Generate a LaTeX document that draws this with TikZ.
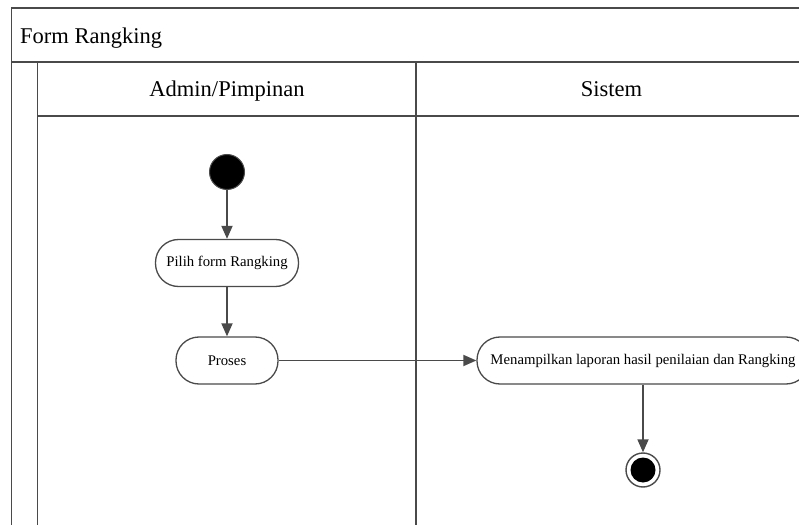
\documentclass[tikz,border=0pt]{standalone}
\usepackage{fontspec}
\setmainfont{Liberation Serif}
\usetikzlibrary{arrows.meta}
\definecolor{linegray}{HTML}{4A4A4A}
\begin{document}
\begin{tikzpicture}[x=1bp,y=-1bp,
  frame/.style={draw=linegray,line width=1.8bp},
  bigtext/.style={font=\fontsize{22.6}{26}\selectfont,inner sep=0pt},
  action/.style={draw=linegray,line width=1.3bp,rectangle,rounded corners=23bp,
    inner sep=0pt,minimum height=47bp,font=\fontsize{14.8}{17}\selectfont},
  flow/.style={draw=linegray,line width=1.8bp,-{Triangle[length=13bp,width=11bp]}},
  initial/.style={circle,fill=black,draw=linegray,line width=1bp,minimum size=35bp,inner sep=0pt},
  final/.style={circle,draw=linegray,line width=1.4bp,minimum size=34bp,inner sep=0pt}]
  \useasboundingbox (0,0) rectangle (799,525);
  \fill[white] (0,0) rectangle (799,525);
  \clip (0,0) rectangle (799,525);

  % swimlane frame
  \draw[frame] (830,8) -- (11.5,8) -- (11.5,540);
  \draw[frame] (11.5,62) -- (830,62);
  \draw[frame] (37.5,62) -- (37.5,540);
  \draw[frame] (37.5,116) -- (830,116);
  \draw[frame] (416,62) -- (416,540);

  % titles
  \node[bigtext,anchor=base west] (title) at (20,43.3) {Form Rangking};
  \node[bigtext,anchor=base] (laneA) at (227,96.7) {Admin/Pimpinan};
  \node[bigtext,anchor=base] (laneB) at (611.5,96.7) {Sistem};

  % activity nodes
  \node[initial] (start) at (227,172) {};
  \node[action,minimum width=143bp] (pilih) at (227,263) {Pilih form Rangking};
  \node[action,minimum width=102bp] (proses) at (227,360.5) {Proses};
  \node[action,minimum width=332bp] (tampil) at (643,360.5) {Menampilkan laporan hasil penilaian dan Rangking};
  \node[final] (end) at (643,470) {};
  \fill[black] (end.center) circle (12.5bp);

  % control flow
  \draw[flow] (start) -- (pilih);
  \draw[flow] (pilih) -- (proses);
  \draw[flow] (proses) -- (tampil);
  \draw[flow] (tampil) -- (end);
\end{tikzpicture}
\end{document}
